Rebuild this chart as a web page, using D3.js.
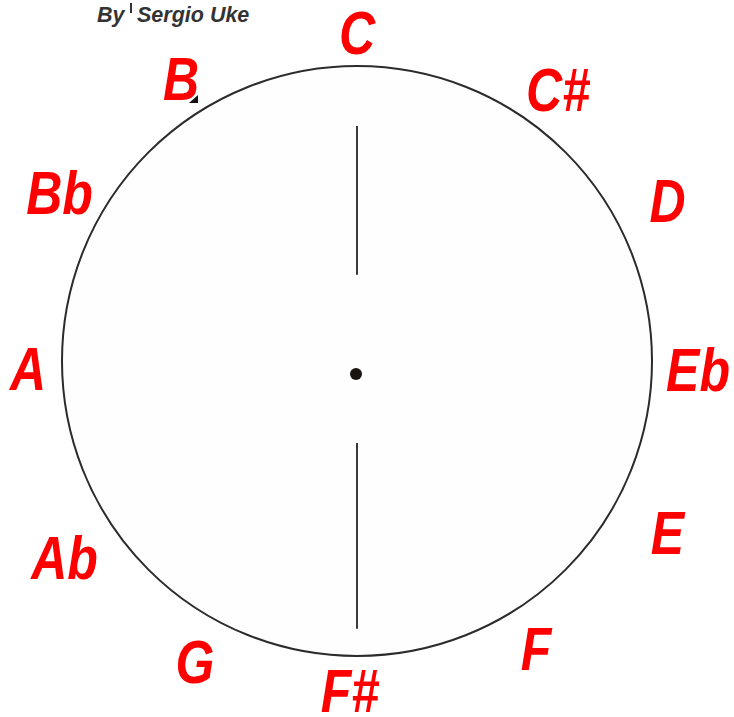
<!DOCTYPE html>
<html>
<head>
<meta charset="utf-8">
<script src="https://cdn.jsdelivr.net/npm/d3@7"></script>
<style>
  html, body { margin: 0; padding: 0; background: #fff; }
  svg { display: block; }
</style>
</head>
<body>
<svg id="chart" width="734" height="717"></svg>
<script>
// ---- data ----
const notes = ["C", "C#", "D", "Eb", "E", "F", "F#", "G", "Ab", "A", "Bb", "B"];
const bylineWord = "By";
const bylineName = "Sergio Uke";

// ---- layout ----
const W = 734, H = 717;
const cx = 357, cy = 361, R = 295;
const labelR = 340;
const labelNudge = [[0,11],[31,22],[16,9],[1,8],[16,1],[9,-7],[-7,-11],[8,6],[2,26],[11,7],[-3,1],[-6,11]];
const capHalf = 22;
const narrow = 0.82;

const svg = d3.select("#chart");

const angle = d3.scaleLinear().domain([0, notes.length]).range([0, 2 * Math.PI]);

// circle
svg.append("circle")
  .attr("cx", cx).attr("cy", cy).attr("r", R)
  .attr("fill", "#fefefe")
  .attr("stroke", "#2b2b2b")
  .attr("stroke-width", 2);

// vertical hand lines
const vy = d3.scaleLinear().domain([-1, 1]).range([cy - R, cy + R]);
svg.append("line")
  .attr("x1", cx).attr("x2", cx)
  .attr("y1", vy(-0.797)).attr("y2", vy(-0.292))
  .attr("stroke", "#3a3a3a").attr("stroke-width", 2);
svg.append("line")
  .attr("x1", cx).attr("x2", cx)
  .attr("y1", vy(0.278)).attr("y2", vy(0.908))
  .attr("stroke", "#3a3a3a").attr("stroke-width", 2);

// centre dot
svg.append("circle")
  .attr("cx", cx - 1).attr("cy", cy + 13).attr("r", 6)
  .attr("fill", "#1a1410");

// note labels
svg.selectAll("text.note")
  .data(notes)
  .join("text")
  .attr("class", "note")
  .attr("transform", (d, i) => {
    const x = cx + labelR * Math.sin(angle(i)) + labelNudge[i][0];
    const y = cy - labelR * Math.cos(angle(i)) + labelNudge[i][1] + capHalf;
    return `translate(${x},${y}) scale(${narrow},1)`;
  })
  .attr("text-anchor", "middle")
  .attr("font-family", "'Liberation Sans', Arial, sans-serif")
  .attr("font-weight", "bold")
  .attr("font-style", "italic")
  .attr("font-size", 61)
  .attr("fill", "#ff0000")
  .text(d => d);

// small black mark next to B
svg.append("path")
  .attr("d", "M198,95 L198,103 L189,103 Z")
  .attr("fill", "#111");

// byline
svg.append("text")
  .attr("x", 97).attr("y", 22)
  .attr("font-family", "'Liberation Sans', Arial, sans-serif")
  .attr("font-weight", "bold").attr("font-style", "italic")
  .attr("font-size", 21.5).attr("fill", "#333")
  .text(bylineWord);
svg.append("line")
  .attr("x1", 131).attr("x2", 131).attr("y1", 3).attr("y2", 13)
  .attr("stroke", "#333").attr("stroke-width", 2);
svg.append("text")
  .attr("x", 137).attr("y", 22)
  .attr("font-family", "'Liberation Sans', Arial, sans-serif")
  .attr("font-weight", "bold").attr("font-style", "italic")
  .attr("font-size", 21.5).attr("fill", "#333")
  .text(bylineName);
</script>
</body>
</html>
